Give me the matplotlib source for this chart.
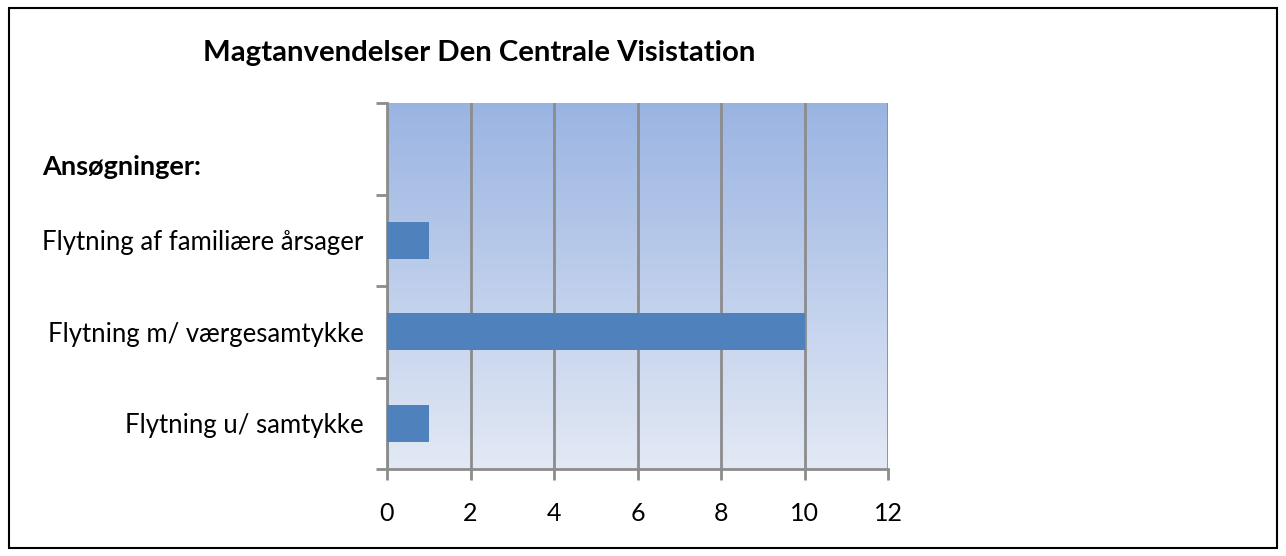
import matplotlib
matplotlib.use("Agg")
import matplotlib.pyplot as plt
import numpy as np
from matplotlib.colors import LinearSegmentedColormap
from matplotlib.patches import Rectangle

plt.rcParams['font.family'] = ['Lato', 'DejaVu Sans']

title = "Magtanvendelser Den Centrale Visistation"
group_label = "Ansøgninger:"
categories = ["", "Flytning af familiære årsager",
              "Flytning m/ værgesamtykke", "Flytning u/ samtykke"]
values = [0, 1, 10, 1]
xticks = [0, 2, 4, 6, 8, 10, 12]

fig = plt.figure(figsize=(12.86, 5.56), dpi=100)
fig.patches.append(Rectangle((9/1286, 8/556), 1268/1286, 540/556, transform=fig.transFigure,
                             fill=False, edgecolor='black', linewidth=1.5))

ax = fig.add_axes([387/1286, 1-469/556, 501/1286, 366/556])
n = len(categories)
ypos = np.arange(n)[::-1]

cmap = LinearSegmentedColormap.from_list("bg", ["#E3E9F5", "#9AB4E2"])
grad = np.linspace(0, 1, 256).reshape(-1, 1)
ax.imshow(grad, aspect='auto', cmap=cmap, origin='lower',
          extent=[0, 12, -0.5, n - 0.5], zorder=0)

ax.barh(ypos, values, height=0.4, color="#4F81BD", zorder=3)
ax.set_xlim(0, 12)
ax.set_ylim(-0.5, n - 0.5)

ax.set_xticks(xticks)
ax.set_xticklabels([str(t) for t in xticks], fontsize=18)
ax.xaxis.grid(True, color="#8C8C8C", linewidth=2, zorder=1)
for gl in ax.get_xgridlines():
    gl.set_zorder(1)

ax.set_yticks(np.arange(-0.5, n, 1.0))
ax.set_yticklabels([])
ax.set_yticks(ypos, minor=True)
ax.set_yticklabels(categories, minor=True, fontsize=18.5)
ax.tick_params(axis='y', which='minor', length=0, pad=17)
ax.tick_params(axis='y', which='major', length=8, width=2, color="#8C8C8C", direction='out')
ax.tick_params(axis='x', length=8, width=2, color="#8C8C8C", direction='out', pad=16)

for s in ['top', 'right']:
    ax.spines[s].set_visible(False)
for s in ['left', 'bottom']:
    ax.spines[s].set_color("#8C8C8C")
    ax.spines[s].set_linewidth(2)

fig.text(42/1286, 1-167/556, group_label, ha='left', va='center', fontsize=19.5, fontweight='bold')
fig.text(479/1286, 1-53/556, title, ha='center', va='center', fontsize=21.2, fontweight='bold')

fig.savefig("out.png", dpi=100)
